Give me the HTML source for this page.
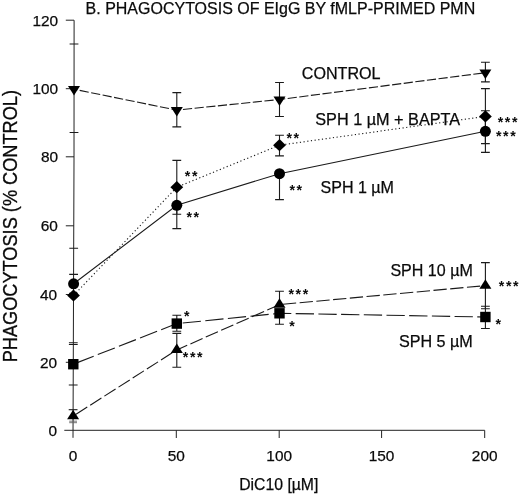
<!DOCTYPE html>
<html><head><meta charset="utf-8"><title>Phagocytosis chart</title>
<style>
html,body{margin:0;padding:0;background:#fff;}
body{width:520px;height:495px;overflow:hidden;}
svg{display:block;}
text{font-family:"Liberation Sans",sans-serif;fill:#0a0a0a;}
.t{font-size:16.4px;stroke:#0a0a0a;stroke-width:0.25px;}
.tk{font-size:15.4px;stroke:#0a0a0a;stroke-width:0.25px;}
.st{font-size:14.2px;font-weight:bold;letter-spacing:1.6px;}
.ln{stroke:#1a1a1a;stroke-width:1.1;fill:none;}
.axs{stroke:#222;stroke-width:1;fill:none;}
.eb{stroke:#1a1a1a;stroke-width:1.1;fill:none;}
.mk{fill:#000;stroke:none;}
</style></head><body>
<svg width="520" height="495" viewBox="0 0 520 495">
<rect width="520" height="495" fill="#fff"/>

<g class="axs">
<path d="M74.1 20.2L74 160L73.0 437.8"/>
<path d="M64.3 430.3H484.7"/>
<path d="M65.8 362.3H73.3"/>
<path d="M65.8 294.5H73.5"/>
<path d="M65.8 225.8H73.8"/>
<path d="M65.8 156.8H74.0"/>
<path d="M65.8 88.7H74.0"/>
<path d="M65.8 20.2H74.0"/>
<path d="M176.3 430.3V438"/>
<path d="M279.2 430.3V438"/>
<path d="M381.6 430.3V438"/>
<path d="M484.7 430.3V438"/>
</g>
<g class="tk" text-anchor="end">
<text x="57.1" y="435.8">0</text>
<text x="57.2" y="367.8">20</text>
<text x="57.2" y="300.0">40</text>
<text x="57.8" y="231.3">60</text>
<text x="58.1" y="162.3">80</text>
<text x="58.1" y="94.2">100</text>
<text x="58.2" y="25.7">120</text>
</g>
<g class="tk" text-anchor="middle">
<text x="73.0" y="460.5">0</text>
<text x="176.3" y="460.5">50</text>
<text x="279.2" y="460.5">100</text>
<text x="381.6" y="460.5">150</text>
<text x="484.7" y="460.5">200</text>
</g>
<text class="t" x="85.6" y="13.9" textLength="389.6" lengthAdjust="spacingAndGlyphs">B. PHAGOCYTOSIS OF EIgG BY fMLP-PRIMED PMN</text>
<text class="t" x="239.2" y="489.6" textLength="79.2" lengthAdjust="spacingAndGlyphs">DiC10 [µM]</text>
<text transform="translate(16.7 362.3) rotate(-90)" style="font-size:20.8px;stroke:#0a0a0a;stroke-width:0.3px" textLength="272.3" lengthAdjust="spacingAndGlyphs">PHAGOCYTOSIS (% CONTROL)</text>
<path class="ln" d="M74.0 89.2 L176.8 110.1 L279.5 99.5 L485.4 72.7" stroke-dasharray="9.2 2.5" stroke-dashoffset="-5.8"/>
<path class="ln" d="M73.5 295.5 L176.8 187.2 L279.5 145.2 L485.4 116.4" stroke-dasharray="1.2 2.5"/>
<path class="ln" d="M73.6 283.8 L176.8 205.3 L279.5 173.7 L485.4 131.3"/>
<path class="ln" d="M73.3 364.2 L176.8 323.6 L279.5 313.3 L485.4 317.0" stroke-dasharray="18.3 4.4" stroke-dashoffset="-3.6"/>
<path class="ln" d="M73.1 416.1 L176.8 349.9 L279.5 304.6 L485.4 285.6" stroke-dasharray="13.3 3.5" stroke-dashoffset="-3.5"/>
<g class="eb">
<path d="M69.6 44.0h8.8M69.6 132.5h8.8"/>
<path d="M176.8 92.6V126.9M172.4 92.6h8.8M172.4 126.9h8.8"/>
<path d="M279.5 82.5V116.5M275.1 82.5h8.8M275.1 116.5h8.8"/>
<path d="M485.4 62.2V81.9M481.0 62.2h8.8M481.0 81.9h8.8"/>
<path d="M69.3 248.3h8.8M68.9 342.7h8.8"/>
<path d="M176.8 160.4V214.3M172.4 160.4h8.8M172.4 214.3h8.8"/>
<path d="M279.5 135.3V155.9M275.1 135.3h8.8M275.1 155.9h8.8"/>
<path d="M485.4 88.6V143.6M481.0 88.6h8.8M481.0 143.6h8.8"/>
<path d="M69.2 274.4h8.8M69.1 293.2h8.8"/>
<path d="M176.8 205.3V228.6M172.4 228.6h8.8"/>
<path d="M279.5 173.7V199.6M275.1 199.6h8.8"/>
<path d="M485.4 110.8V152.4M481.0 110.8h8.8M481.0 152.4h8.8"/>
<path d="M68.9 344.5h8.8M68.8 385.0h8.8"/>
<path d="M176.8 315.3V331.2M172.4 315.3h8.8M172.4 331.2h8.8"/>
<path d="M279.5 313.3V324.2M275.1 324.2h8.8"/>
<path d="M485.4 306.3V328.5M481.0 306.3h8.8M481.0 328.5h8.8"/>
<path d="M68.7 409.7h8.8"/>
<path d="M176.8 333.4V367.2M172.4 333.4h8.8M172.4 367.2h8.8"/>
<path d="M279.5 291.3V304.6M275.1 291.3h8.8"/>
<path d="M485.4 262.6V308.8M481.0 262.6h8.8M481.0 308.8h8.8"/>
</g>
<path d="M73.1 416V422.6M69.2 421.2h7.8M69.2 422.7h7.8" stroke="#666" stroke-width="0.9" fill="none"/>
<path class="mk" d="M68.0 86.1H80.0L74.0 95.6Z"/>
<path class="mk" d="M170.8 107.0H182.8L176.8 116.5Z"/>
<path class="mk" d="M273.5 96.4H285.5L279.5 105.9Z"/>
<path class="mk" d="M479.4 69.6H491.4L485.4 79.1Z"/>
<path class="mk" d="M67.1 295.5L73.5 289.4L79.9 295.5L73.5 301.6Z"/>
<path class="mk" d="M170.4 187.2L176.8 181.1L183.2 187.2L176.8 193.3Z"/>
<path class="mk" d="M273.1 145.2L279.5 139.1L285.9 145.2L279.5 151.3Z"/>
<path class="mk" d="M479.0 116.4L485.4 110.3L491.8 116.4L485.4 122.5Z"/>
<circle class="mk" cx="73.6" cy="283.8" r="5.5"/>
<circle class="mk" cx="176.8" cy="205.3" r="5.5"/>
<circle class="mk" cx="279.5" cy="173.7" r="5.5"/>
<circle class="mk" cx="485.4" cy="131.3" r="5.5"/>
<rect class="mk" x="68.1" y="359.0" width="10.4" height="10.4"/>
<rect class="mk" x="171.6" y="318.4" width="10.4" height="10.4"/>
<rect class="mk" x="274.3" y="308.1" width="10.4" height="10.4"/>
<rect class="mk" x="480.2" y="311.8" width="10.4" height="10.4"/>
<path class="mk" d="M67.1 419.2H79.1L73.1 409.7Z"/>
<path class="mk" d="M170.8 353.0H182.8L176.8 343.5Z"/>
<path class="mk" d="M273.5 307.7H285.5L279.5 298.2Z"/>
<path class="mk" d="M479.4 288.7H491.4L485.4 279.2Z"/>
<g class="t">
<text x="301.8" y="78.7" textLength="78.7" lengthAdjust="spacingAndGlyphs">CONTROL</text>
<text x="315.3" y="124.5" textLength="144.8" lengthAdjust="spacingAndGlyphs">SPH 1 µM + BAPTA</text>
<text x="320.5" y="192.9" textLength="73.5" lengthAdjust="spacingAndGlyphs">SPH 1 µM</text>
<text x="390.4" y="275.9" textLength="82.4" lengthAdjust="spacingAndGlyphs">SPH 10 µM</text>
<text x="398.9" y="346.9" textLength="73.9" lengthAdjust="spacingAndGlyphs">SPH 5 µM</text>
</g>
<g class="st">
<text x="184.8" y="181.2">**</text>
<text x="186.5" y="222.3">**</text>
<text x="286.5" y="143.2">**</text>
<text x="289.5" y="195.0">**</text>
<text x="497.7" y="126.9">***</text>
<text x="496.0" y="140.7">***</text>
<text x="184.0" y="320.7">*</text>
<text x="182.8" y="361.5">***</text>
<text x="288.5" y="298.9">***</text>
<text x="289.3" y="331.3">*</text>
<text x="498.8" y="290.9">***</text>
<text x="495.4" y="328.5">*</text>
</g>
</svg></body></html>
